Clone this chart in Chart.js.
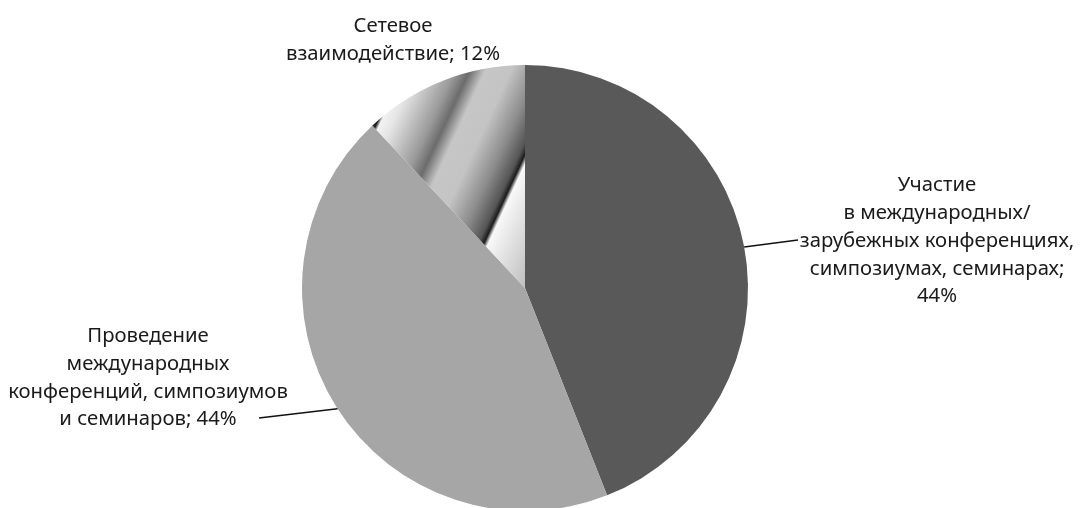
<!DOCTYPE html>
<html>
<head>
<meta charset="utf-8">
<script src="https://cdn.jsdelivr.net/npm/chart.js@4.4.1/dist/chart.umd.min.js"></script>
<style>
    html, body { margin: 0; padding: 0; background: #ffffff; }
    #wrap { width: 1081px; height: 508px; }
</style>
</head>
<body>
<div id="wrap"><canvas id="chart" width="1081" height="508"></canvas></div>
<script>
// --- Data ---
const categories = [
    'Участие в международных/ зарубежных конференциях, симпозиумах, семинарах',
    'Проведение международных конференций, симпозиумов и семинаров',
    'Сетевое взаимодействие'
];
const shares = [44, 44, 12];
// label text, line by line, as in the picture
const labelLines = [
    ['Участие', 'в международных/', 'зарубежных конференциях,', 'симпозиумах, семинарах;', '44%'],
    ['Проведение', 'международных', 'конференций, симпозиумов', 'и семинаров; 44%'],
    ['Сетевое', 'взаимодействие; 12%']
];

// --- Layout / style ---
const RADIUS = 223;
const FONT = '20.3px "Noto Sans", "Open Sans", sans-serif';
const LINE_H = 27.8;
// label centre (relative to pie centre), leader angle (deg) and leader end
const labelLayout = [
    { dx: 412, dy: -47, leader: -10.6, end: { dx: 273, dy: -48 } },
    { dx: -377, dy: 90, leader: 147.2, end: { dx: -266, dy: 130 } },
    { dx: -132, dy: -248, leader: null }
];

// striped grey gradient of the small slice, along a direction tilted ~25deg
const stripeStops = [
    [0.000, '#3a3a3a'], [0.028, '#1e1e1e'], [0.043, '#f2f2f2'], [0.095, '#e6e6e6'],
    [0.260, '#9a9a9a'], [0.322, '#6c6c6c'], [0.389, '#c6c6c6'], [0.498, '#c4c4c4'],
    [0.616, '#8c8c8c'], [0.701, '#555555'], [0.725, '#1c1c1c'], [0.744, '#f8f8f8'],
    [1.000, '#bcbcbc']
];

function stripeFill(chart) {
    const area = chart.chartArea;
    if (!area) return '#c0c0c0';
    const cx = (area.left + area.right) / 2;
    const cy = (area.top + area.bottom) / 2;
    const phi = 24.8 * Math.PI / 180;
    const nx = Math.cos(phi), ny = Math.sin(phi);
    const g = chart.ctx.createLinearGradient(
        cx - nx * RADIUS * 0.94, cy - ny * RADIUS * 0.94,
        cx + nx * RADIUS * 0.01, cy + ny * RADIUS * 0.01
    );
    stripeStops.forEach(([o, c]) => g.addColorStop(o, c));
    return g;
}

const sliceColors = ['#595959', '#a6a6a6', null];

function sliceFill(context) {
    const c = sliceColors[context.dataIndex];
    return c === null ? stripeFill(context.chart) : c;
}

// --- Labels with leader lines ---
const pieLabels = {
    id: 'pieLabels',
    afterDatasetsDraw(chart) {
        const ctx = chart.ctx;
        const arcs = chart.getDatasetMeta(0).data;
        if (!arcs.length) return;
        const cx = arcs[0].x, cy = arcs[0].y, r = arcs[0].outerRadius;
        ctx.save();
        ctx.font = FONT;
        ctx.fillStyle = '#1a1a1a';
        ctx.textAlign = 'center';
        ctx.textBaseline = 'middle';
        labelLines.forEach((lines, i) => {
            const L = labelLayout[i];
            const x = cx + L.dx;
            const y0 = cy + L.dy - (lines.length - 1) * LINE_H / 2;
            lines.forEach((t, k) => ctx.fillText(t, x, y0 + k * LINE_H));
            if (L.leader !== null) {
                const a = L.leader * Math.PI / 180;
                ctx.beginPath();
                ctx.moveTo(cx + Math.cos(a) * r, cy + Math.sin(a) * r);
                ctx.lineTo(cx + L.end.dx, cy + L.end.dy);
                ctx.strokeStyle = '#111111';
                ctx.lineWidth = 1.5;
                ctx.stroke();
            }
        });
        ctx.restore();
    }
};

new Chart(document.getElementById('chart'), {
    type: 'pie',
    data: {
        labels: categories,
        datasets: [{
            data: shares,
            backgroundColor: sliceFill,
            borderWidth: 0,
            radius: RADIUS
        }]
    },
    options: {
        responsive: false,
        animation: false,
        layout: { padding: { left: 0, right: 31, top: 68, bottom: 0 } },
        plugins: {
            legend: { display: false },
            tooltip: { enabled: false }
        }
    },
    plugins: [pieLabels]
});
</script>
</body>
</html>
